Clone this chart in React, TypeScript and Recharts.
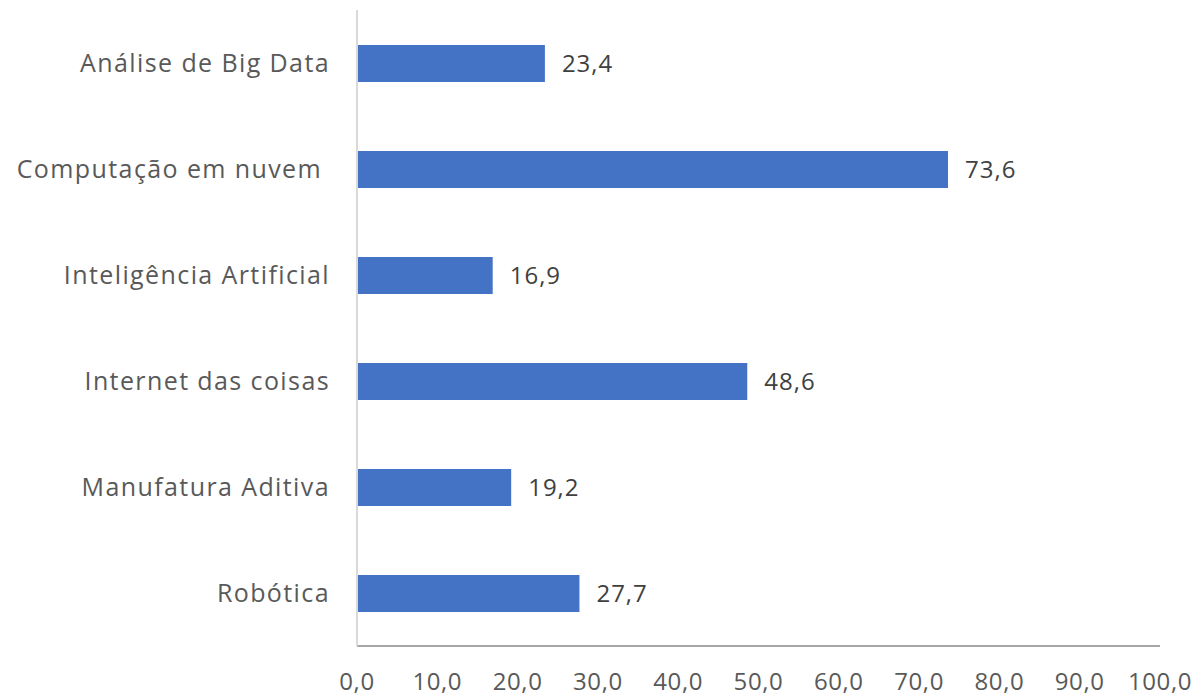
import React from 'react';
import { BarChart, Bar, XAxis, YAxis, LabelList } from 'recharts';

const categories = [
    'Análise de Big Data',
    'Computação em nuvem\u00a0',
    'Inteligência Artificial',
    'Internet das coisas',
    'Manufatura Aditiva',
    'Robótica',
];
const values = [23.4, 73.6, 16.9, 48.6, 19.2, 27.7];
const xTicks = [0, 10, 20, 30, 40, 50, 60, 70, 80, 90, 100];

const fmt = (v: number) => v.toFixed(1).replace('.', ',');

const FONT = '"Open Sans", "Liberation Sans", sans-serif';

export default function App() {
    const data = categories.map((name, i) => ({ name, value: values[i] }));

    return (
        <div style={{ position: 'absolute', left: 0, top: 0, background: '#fff' }}>
            <BarChart
                width={1201}
                height={700}
                data={data}
                layout="vertical"
                margin={{ top: 10, right: 41, left: 0, bottom: 0 }}
                barSize={37}
            >
                <XAxis
                    type="number"
                    domain={[0, 100]}
                    ticks={xTicks}
                    tickFormatter={fmt}
                    tickLine={false}
                    axisLine={{ stroke: '#a6a6a6', strokeWidth: 2 }}
                    height={54}
                    tickMargin={21}
                    tick={{ fill: '#595959', fontSize: 24, fontFamily: FONT, letterSpacing: 0.6 }}
                    interval={0}
                />
                <YAxis
                    type="category"
                    dataKey="name"
                    width={357}
                    tickLine={false}
                    axisLine={{ stroke: '#d9d9d9', strokeWidth: 2 }}
                    tickMargin={21}
                    tick={{ fill: '#595959', fontSize: 25, fontFamily: FONT, letterSpacing: 1.4 }}
                    interval={0}
                />
                <Bar dataKey="value" fill="#4472c4" isAnimationActive={false}>
                    <LabelList
                        dataKey="value"
                        position="right"
                        offset={17}
                        formatter={(v: any) => fmt(Number(v))}
                        style={{ fill: '#404040', fontSize: 24, fontFamily: FONT, letterSpacing: 1 }}
                    />
                </Bar>
            </BarChart>
        </div>
    );
}
